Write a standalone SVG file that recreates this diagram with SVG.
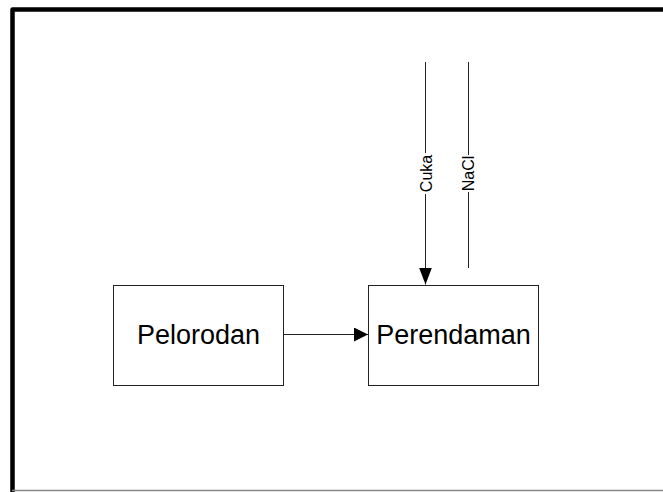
<svg xmlns="http://www.w3.org/2000/svg" width="663" height="492" viewBox="0 0 663 492">
<defs>
<style>
.box{fill:#fff;stroke:#222;stroke-width:1}
.lbl{font-family:"Liberation Sans",Arial,sans-serif;font-size:27px;fill:#000;text-anchor:middle}
.small{font-family:"Liberation Sans",Arial,sans-serif;font-size:16px;fill:#000;text-anchor:middle}
.ln{stroke:#222;stroke-width:1;fill:none}
</style>
<marker id="ah" viewBox="0 0 14 14" markerWidth="14" markerHeight="14" refX="14" refY="7" orient="auto" markerUnits="userSpaceOnUse">
<path d="M0,0 L14,7 L0,14 Z" fill="#000"/>
</marker>
<marker id="ahv" viewBox="0 0 17 13" markerWidth="17" markerHeight="13" refX="17" refY="6.5" orient="auto" markerUnits="userSpaceOnUse">
<path d="M0,0 L17,6.5 L0,13 Z" fill="#000"/>
</marker>
</defs>
<rect width="663" height="492" fill="#fff"/>
<g id="frame">
<path d="M12.5,492 L12.5,9.5 L663,9.5" fill="none" stroke="#000" stroke-width="4.5" stroke-linejoin="round"/>
<line x1="12" y1="490.5" x2="663" y2="490.5" stroke="#888" stroke-width="1.5"/>
</g>
<g id="pelorodan">
<rect class="box" x="113.5" y="285.5" width="170" height="100"/>
<text class="lbl" x="198.5" y="344">Pelorodan</text>
</g>
<g id="perendaman">
<rect class="box" x="368.5" y="285.5" width="170" height="100"/>
<text class="lbl" x="453.5" y="344">Perendaman</text>
</g>
<g id="connectors">
<line class="ln" x1="283.5" y1="334.5" x2="368" y2="334.5" marker-end="url(#ah)"/>
<line class="ln" x1="425.5" y1="62" x2="425.5" y2="153"/>
<line class="ln" x1="425.5" y1="194" x2="425.5" y2="284.5" marker-end="url(#ahv)"/>
<line class="ln" x1="468.5" y1="62" x2="468.5" y2="155"/>
<line class="ln" x1="468.5" y1="192" x2="468.5" y2="268"/>
<text class="small" transform="translate(431.5,173.5) rotate(-90)">Cuka</text>
<text class="small" transform="translate(474,173.5) rotate(-90)">NaCl</text>
</g>
</svg>
